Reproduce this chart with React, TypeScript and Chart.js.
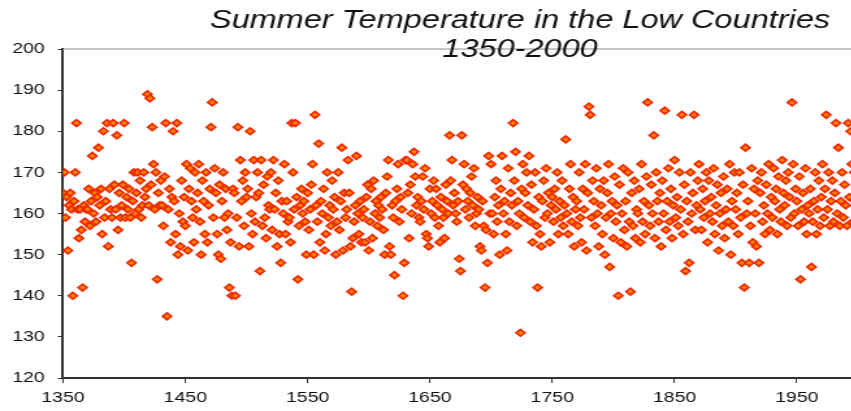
import React, { useEffect, useRef } from "react";
import { Chart, registerables } from "chart.js";

Chart.register(...registerables);

// ---- data ----
const startYear = 1350;
// summer temperature index, one value per year 1350..2000
const temps: number[] = [
  // 1350s
  165, 170, 159, 164, 151, 162, 165, 161, 140, 163,
  // 1360s
  170, 182, 161, 154, 161, 156, 142, 162, 158, 161,
  // 1370s
  161, 166, 157, 163, 174, 160, 165, 158, 164, 176,
  // 1380s
  162, 166, 155, 180, 159, 163, 182, 152, 166, 161,
  // 1390s
  159, 182, 167, 161, 179, 156, 165, 159, 162, 167,
  // 1400s
  182, 159, 164, 161, 166, 159, 148, 163, 170, 160,
  // 1410s
  165, 170, 161, 168, 159, 162, 170, 164, 166, 189,
  // 1420s
  162, 188, 167, 181, 172, 161, 170, 144, 165, 162,
  // 1430s
  168, 162, 157, 169, 182, 135, 161, 166, 153, 164,
  // 1440s
  180, 163, 155, 182, 150, 160, 152, 168, 158, 164,
  // 1450s
  157, 172, 151, 166, 171, 163, 159, 153, 170, 161,
  // 1460s
  165, 172, 158, 150, 168, 163, 155, 170, 153, 162,
  // 1470s
  166, 181, 187, 159, 171, 165, 155, 150, 167, 149,
  // 1480s
  163, 170, 159, 166, 156, 160, 142, 153, 140, 166,
  // 1490s
  165, 140, 159, 181, 152, 173, 163, 168, 157, 170,
  // 1500s
  164, 166, 152, 180, 160, 155, 173, 158, 164, 170,
  // 1510s
  165, 146, 173, 157, 167, 159, 154, 169, 162, 161,
  // 1520s
  170, 156, 173, 161, 165, 152, 168, 155, 148, 163,
  // 1530s
  160, 172, 155, 163, 158, 159, 153, 182, 170, 161,
  // 1540s
  182, 164, 144, 157, 162, 166, 160, 163, 158, 150,
  // 1550s
  165, 156, 161, 167, 172, 150, 184, 162, 158, 177,
  // 1560s
  153, 163, 160, 166, 151, 155, 170, 159, 162, 157,
  // 1570s
  168, 161, 164, 150, 158, 170, 156, 163, 176, 151,
  // 1580s
  165, 159, 161, 173, 165, 152, 141, 154, 158, 162,
  // 1590s
  174, 160, 155, 163, 153, 159, 161, 153, 164, 167,
  // 1600s
  151, 158, 166, 154, 168, 160, 163, 157, 162, 159,
  // 1610s
  164, 161, 156, 150, 165, 169, 173, 152, 150, 162,
  // 1620s
  159, 145, 163, 166, 172, 158, 164, 161, 140, 148,
  // 1630s
  173, 173, 165, 154, 167, 160, 172, 175, 169, 162,
  // 1640s
  164, 159, 158, 163, 169, 161, 171, 155, 154, 152,
  // 1650s
  166, 160, 163, 168, 159, 166, 162, 157, 153, 164,
  // 1660s
  161, 159, 154, 167, 163, 160, 179, 168, 173, 162,
  // 1670s
  165, 160, 158, 163, 149, 146, 179, 167, 172, 161,
  // 1680s
  166, 163, 159, 165, 169, 162, 171, 157, 160, 164,
  // 1690s
  161, 152, 151, 163, 157, 142, 156, 148, 174, 160,
  // 1700s
  172, 160, 155, 164, 168, 158, 162, 150, 166, 174,
  // 1710s
  160, 163, 155, 151, 171, 158, 165, 162, 182, 168,
  // 1720s
  175, 157, 163, 160, 131, 166, 172, 159, 165, 170,
  // 1730s
  162, 174, 158, 167, 153, 161, 170, 157, 142, 164,
  // 1740s
  155, 152, 163, 168, 159, 171, 160, 165, 153, 162,
  // 1750s
  164, 158, 166, 161, 170, 155, 163, 159, 168, 157,
  // 1760s
  162, 178, 160, 155, 166, 172, 158, 164, 152, 161,
  // 1770s
  163, 157, 170, 159, 153, 166, 161, 172, 151, 165,
  // 1780s
  186, 184, 159, 168, 163, 157, 171, 160, 152, 166,
  // 1790s
  162, 155, 168, 150, 159, 165, 172, 147, 160, 163,
  // 1800s
  154, 169, 158, 162, 140, 167, 153, 160, 171, 156,
  // 1810s
  163, 152, 170, 158, 141, 165, 157, 168, 154, 161,
  // 1820s
  160, 166, 153, 172, 158, 163, 155, 169, 187, 162,
  // 1830s
  157, 167, 160, 179, 154, 170, 163, 158, 165, 152,
  // 1840s
  168, 160, 185, 156, 163, 171, 158, 166, 154, 162,
  // 1850s
  173, 159, 164, 157, 170, 161, 184, 155, 167, 146,
  // 1860s
  163, 158, 148, 170, 160, 165, 184, 156, 162, 168,
  // 1870s
  172, 161, 156, 166, 159, 163, 170, 153, 168, 160,
  // 1880s
  164, 158, 171, 155, 162, 167, 151, 160, 165, 157,
  // 1890s
  169, 154, 161, 166, 158, 172, 150, 163, 157, 170,
  // 1900s
  161, 165, 155, 170, 159, 148, 167, 142, 176, 160,
  // 1910s
  163, 148, 157, 171, 153, 166, 160, 152, 168, 148,
  // 1920s
  165, 170, 158, 162, 155, 167, 160, 172, 156, 164,
  // 1930s
  159, 171, 163, 166, 155, 169, 161, 158, 173, 165,
  // 1940s
  162, 168, 157, 170, 164, 159, 187, 172, 160, 166,
  // 1950s
  163, 157, 169, 144, 161, 165, 158, 171, 155, 162,
  // 1960s
  160, 166, 147, 158, 163, 170, 155, 161, 168, 157,
  // 1970s
  164, 172, 159, 166, 184, 161, 170, 157, 163, 168,
  // 1980s
  158, 165, 182, 160, 176, 157, 163, 170, 159, 167,
  // 1990s + 2000
  162, 157, 182, 164, 180, 172, 158, 170, 163, 166, 160,
];

const xTickValues = [1350, 1450, 1550, 1650, 1750, 1850, 1950];
const xMin = 1350;
const xMax = 2000;
const yMin = 120;
const yMax = 200;
const yStep = 10;
const titleLines = ["Summer Temperature in the Low Countries", "1350-2000"];

// ---- layout / style ----
const STRETCH = 1.3;
const CANVAS_W = 670;
const CANVAS_H = 411;
const FONT = "'Liberation Sans', Arial, sans-serif";

export default function App() {
  const ref = useRef<HTMLCanvasElement | null>(null);

  useEffect(() => {
    const canvas = ref.current;
    if (!canvas) return;
    const points = temps.map((t, i) => ({ x: startYear + i, y: t }));

    const framePlugin = {
      id: "frameAndTitle",
      afterDraw(chart: any) {
        const { ctx, chartArea } = chart;
        ctx.save();
        // top border line of the plot area
        ctx.strokeStyle = "#8c8c8c";
        ctx.lineWidth = 1.2;
        ctx.beginPath();
        ctx.moveTo(chartArea.left, chartArea.top);
        ctx.lineTo(chartArea.right + 20, chartArea.top);
        ctx.stroke();
        // title
        ctx.fillStyle = "#111";
        ctx.font = `italic 25px ${FONT}`;
        ctx.textAlign = "center";
        ctx.textBaseline = "alphabetic";
        const cx = 520 / STRETCH;
        ctx.fillText(titleLines[0], cx, 28);
        ctx.fillText(titleLines[1], cx, 57);
        ctx.restore();
      },
    };

    const chart = new Chart(canvas, {
      type: "scatter",
      data: {
        datasets: [
          {
            data: points,
            pointStyle: "rectRot",
            pointRadius: 3.4,
            pointHoverRadius: 3.4,
            backgroundColor: "#ff8400",
            borderColor: "#ee2a00",
            borderWidth: 1.7,
          },
        ],
      },
      options: {
        animation: false,
        responsive: false,
        events: [],
        layout: { padding: { top: 49, right: 10, left: 0, bottom: 0 } },
        plugins: {
          legend: { display: false },
          tooltip: { enabled: false },
          title: { display: false },
        },
        scales: {
          x: {
            type: "linear",
            min: xMin,
            max: xMax,
            afterBuildTicks: (scale: any) => {
              scale.ticks = xTickValues.map((v) => ({ value: v }));
            },
            afterFit: (scale: any) => {
              scale.height = 33;
            },
            border: { display: true, color: "#333", width: 2 },
            grid: {
              display: true,
              drawOnChartArea: false,
              drawTicks: true,
              tickLength: 5,
              color: "#333",
              lineWidth: 1,
            },
            ticks: {
              autoSkip: false,
              maxRotation: 0,
              padding: 6,
              color: "#111",
              font: { family: FONT, size: 15 },
              callback: (v: any) => String(v),
            },
          },
          y: {
            min: yMin,
            max: yMax,
            afterFit: (scale: any) => {
              scale.width = 63 / STRETCH;
            },
            border: { display: true, color: "#333", width: 2 },
            grid: {
              display: true,
              drawOnChartArea: false,
              drawTicks: true,
              tickLength: 4,
              color: "#333",
              lineWidth: 1,
            },
            ticks: {
              stepSize: yStep,
              padding: 10,
              color: "#111",
              font: { family: FONT, size: 15 },
            },
          },
        },
      },
      plugins: [framePlugin],
    });
    return () => chart.destroy();
  }, []);

  return (
    <div
      style={{
        position: "fixed",
        left: 0,
        top: 0,
        width: 851,
        height: 411,
        overflow: "hidden",
        background: "#fff",
      }}
    >
      <div
        style={{
          width: CANVAS_W,
          height: CANVAS_H,
          transform: `scaleX(${STRETCH})`,
          transformOrigin: "0 0",
        }}
      >
        <canvas
          ref={ref}
          width={CANVAS_W}
          height={CANVAS_H}
          style={{ display: "block" }}
        />
      </div>
    </div>
  );
}
